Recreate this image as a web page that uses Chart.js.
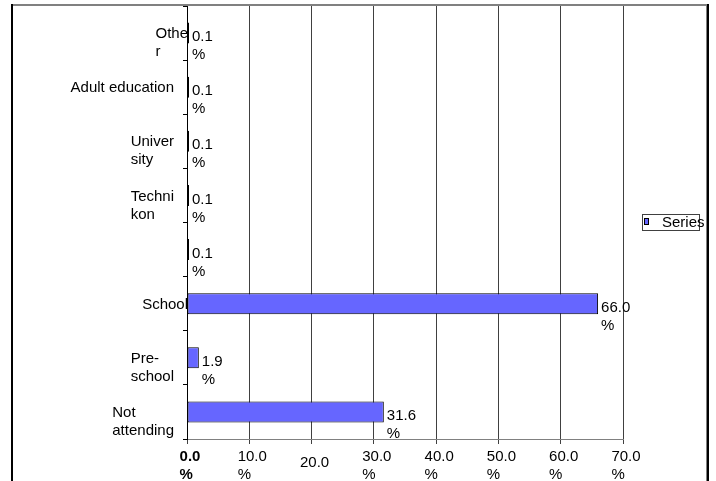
<!DOCTYPE html>
<html>
<head>
<meta charset="utf-8">
<title>Attendance at educational institutions</title>
<script src="https://cdn.jsdelivr.net/npm/chart.js@4/dist/chart.umd.min.js"></script>
<style>
  html, body { margin: 0; padding: 0; background: #ffffff; }
  canvas { display: block; }
</style>
</head>
<body>
<canvas id="chart" width="716" height="481"></canvas>
<script>
// Category names as wrapped in the axis label area (top to bottom)
const categories = ["Other", "Adult education", "University", "Technikon", "", "School", "Pre-school", "Not attending"];
const categoryLines = [["Othe", "r"], ["Adult education"], ["Univer", "sity"], ["Techni", "kon"], [""], ["School"], ["Pre-", "school"], ["Not", "attending"]];

// Share of persons (%)
const seriesName = "Series";
const shares = [0.1, 0.1, 0.1, 0.1, 0.1, 66.0, 1.9, 31.6];

// Value axis ticks
const xTickValues = [0, 10, 20, 30, 40, 50, 60, 70];
const xTickLabels = ["0.0", "10.0", "20.0", "30.0", "40.0", "50.0", "60.0", "70.0"];

// Styling
const FONT = '"Liberation Sans", Arial, Helvetica, sans-serif';
const BAR_FILL = "#6666FF";
const flushToAxis = [0, 5];      // labels whose text runs up to the axis line
const xLabelDrop = { 2: 6 };     // extra downward shift of a tick label

const decorations = {
  id: "decorations",
  beforeDraw(chart) {
    const ctx = chart.ctx;
    ctx.save();
    ctx.fillStyle = "#ffffff";
    ctx.fillRect(0, 0, chart.width, chart.height);
    ctx.restore();
  },
  afterDraw(chart) {
    const ctx = chart.ctx;
    const xs = chart.scales.x;
    const ys = chart.scales.y;
    const area = chart.chartArea;
    ctx.save();

    // Category labels: left-aligned lines in a block ending near the axis
    ctx.font = "15px " + FONT;
    ctx.fillStyle = "#000000";
    ctx.textBaseline = "middle";
    ctx.textAlign = "left";
    categoryLines.forEach((lines, i) => {
      const py = ys.getPixelForValue(i);
      const w = Math.max(...lines.map(l => ctx.measureText(l).width));
      const right = flushToAxis.includes(i) ? area.left + 1 : area.left - 13;
      const left = right - w;
      lines.forEach((line, k) => {
        ctx.fillText(line, left, py + 1 + k * 18);
      });
    });

    // Value labels at the end of each bar
    const meta = chart.getDatasetMeta(0);
    meta.data.forEach((bar, i) => {
      const x = bar.x + 3;
      ctx.fillText(shares[i].toFixed(1), x, bar.y + 4);
      ctx.fillText("%", x, bar.y + 22);
    });

    // Value axis tick labels (second line dropped when it falls below the frame)
    xTickValues.forEach((v, i) => {
      const px = xs.getPixelForValue(v);
      ctx.font = (i === 0 ? "bold " : "") + "15px " + FONT;
      const txt = xTickLabels[i];
      const w = ctx.measureText(txt).width;
      const left = px + 3 - w / 2;
      const drop = xLabelDrop[i] || 0;
      ctx.fillText(txt, left, area.bottom + 18 + drop);
      const y2 = area.bottom + 36 + drop;
      if (y2 + 6 <= chart.height) ctx.fillText("%", left, y2);
    });

    // Legend
    ctx.strokeStyle = "#404040";
    ctx.lineWidth = 1;
    ctx.strokeRect(642.5, 214.5, 57, 16);
    ctx.fillStyle = BAR_FILL;
    ctx.fillRect(644.5, 218.5, 4, 6);
    ctx.strokeStyle = "#000000";
    ctx.strokeRect(644.5, 218.5, 4, 6);
    ctx.font = "15px " + FONT;
    ctx.fillStyle = "#000000";
    ctx.fillText(seriesName, 662, 223);

    // Outer frame
    ctx.fillStyle = "#808080";
    ctx.fillRect(11, 4, 697, 2);
    ctx.fillStyle = "#000000";
    ctx.fillRect(11, 4, 2, chart.height - 4);
    ctx.fillStyle = "#808080";
    ctx.fillRect(706, 4, 1, chart.height - 4);
    ctx.fillStyle = "#000000";
    ctx.fillRect(707, 4, 2, chart.height - 4);
    ctx.restore();
  }
};

new Chart(document.getElementById("chart"), {
  type: "bar",
  data: {
    labels: categories,
    datasets: [{
      label: seriesName,
      data: shares,
      backgroundColor: BAR_FILL,
      borderColor: "#000000",
      borderWidth: 1,
      borderSkipped: false,
      minBarLength: 2,
      barPercentage: 0.39,
      categoryPercentage: 1.0
    }]
  },
  options: {
    indexAxis: "y",
    responsive: false,
    animation: false,
    devicePixelRatio: 1,
    layout: { padding: { top: 6, right: 93, left: 0, bottom: 0 } },
    plugins: {
      legend: { display: false },
      tooltip: { enabled: false }
    },
    scales: {
      x: {
        type: "linear",
        min: 0,
        max: 70,
        ticks: { display: false, stepSize: 10 },
        grid: { color: "#404040", lineWidth: 1, tickLength: 5, drawTicks: true },
        border: { display: true, color: "#808080", width: 1 },
        afterFit(scale) { scale.height = 42; }
      },
      y: {
        type: "category",
        ticks: { display: false },
        grid: { drawOnChartArea: false, color: "#000000", tickLength: 4, offset: true },
        border: { display: true, color: "#000000", width: 1 },
        afterFit(scale) { scale.width = 187; }
      }
    }
  },
  plugins: [decorations]
});
</script>
</body>
</html>
